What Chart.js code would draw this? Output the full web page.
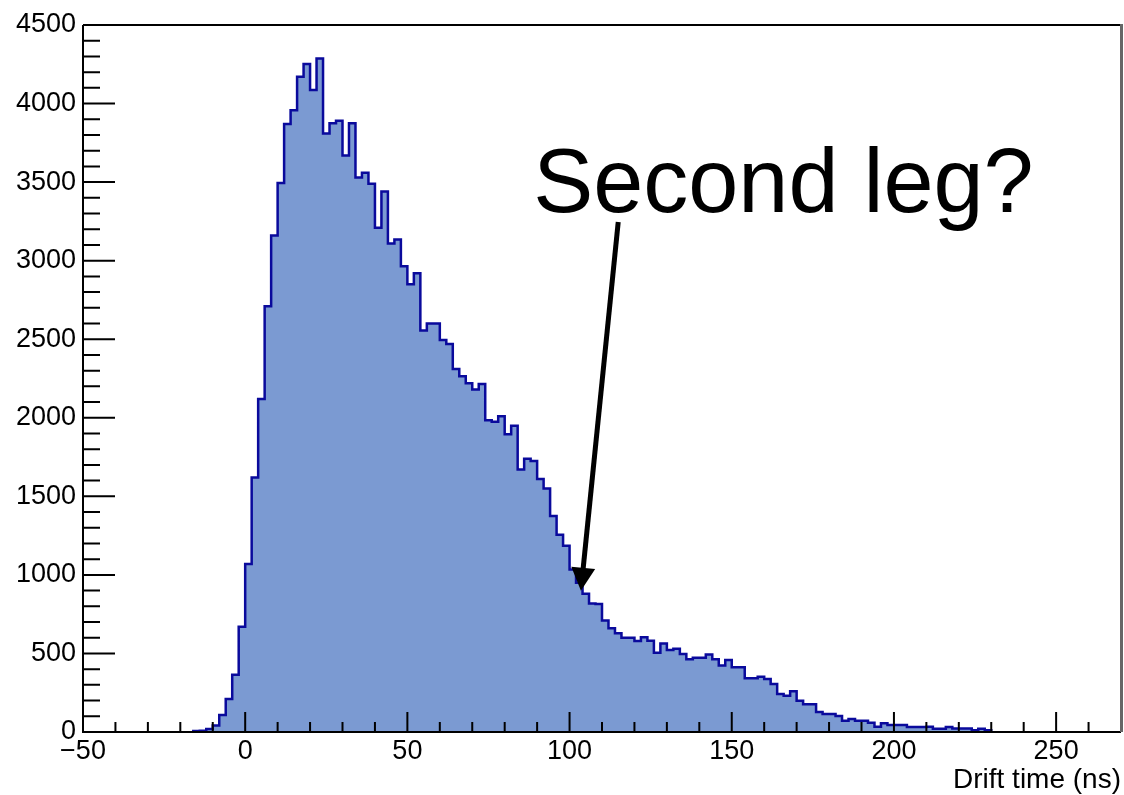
<!DOCTYPE html>
<html>
<head>
<meta charset="utf-8">
<script src="https://cdn.jsdelivr.net/npm/chart.js@4.4.1/dist/chart.umd.min.js"></script>
<style>
  html, body { margin: 0; padding: 0; background: #fff; }
  #wrap { width: 1124px; height: 795px; }
</style>
</head>
<body>
<div id="wrap"><canvas id="histo" width="1124" height="795"></canvas></div>
<script>
// drift time histogram, 2 ns bins starting at -16 ns
const binLow = -16;
const binWidth = 2;
// entries per bin
const counts = [
  7, 8, 19, 42, 108, 210, 365, 670, 1070, 1620,
  2120, 2710, 3160, 3495, 3870, 3958, 4170, 4252, 4087, 4286,
  3810, 3875, 3890, 3670, 3875, 3530, 3560, 3490, 3210, 3440,
  3110, 3135, 2965, 2850, 2920, 2555, 2600, 2600, 2495, 2470,
  2310, 2265, 2220, 2180, 2215, 1985, 1975, 2010, 1895, 1950,
  1670, 1740, 1725, 1610, 1550, 1375, 1255, 1185, 1035, 950,
  880, 818, 815, 710, 660, 628, 600, 600, 580, 603,
  581, 505, 564, 522, 530, 497, 463, 473, 473, 494,
  463, 424, 458, 412, 412, 342, 342, 352, 337, 306,
  242, 231, 259, 199, 176, 176, 127, 115, 115, 102,
  72, 83, 72, 72, 59, 34, 55, 45, 45, 45,
  32, 32, 32, 34, 21, 21, 32, 23, 23, 23,
  11, 21, 11
];
const xTicks = [-50, 0, 50, 100, 150, 200, 250];
const yTicks = [0, 500, 1000, 1500, 2000, 2500, 3000, 3500, 4000, 4500];
const xTitle = 'Drift time (ns)';
const noteText = 'Second leg?';
// annotation anchors in data units
const notePos = [88.8, 3310];
const arrowFrom = [115.0, 3246];
const arrowTo = [103.5, 899];

const FONT = "'Liberation Sans', Arial, Helvetica, sans-serif";

// outline of the histogram as a step line
const points = [{ x: binLow, y: 0 }];
counts.forEach((c, i) => points.push({ x: binLow + i * binWidth, y: c }));
points.push({ x: binLow + counts.length * binWidth, y: 0 });

// ROOT style frame with inward ticks
const rootFrame = {
  id: 'rootFrame',
  afterDatasetsDraw(chart) {
    const { ctx, chartArea: a, scales: { x, y } } = chart;
    ctx.save();
    ctx.strokeStyle = '#000';
    ctx.lineWidth = 2;
    ctx.beginPath();
    for (let v = -40; v < 270; v += 10) {
      const px = x.getPixelForValue(v);
      const len = v % 50 === 0 ? 20 : 10;
      ctx.moveTo(px, a.bottom);
      ctx.lineTo(px, a.bottom - len);
    }
    for (let v = 100; v < 4500; v += 100) {
      const py = y.getPixelForValue(v);
      const len = v % 500 === 0 ? 32 : 17;
      ctx.moveTo(a.left, py);
      ctx.lineTo(a.left + len, py);
    }
    ctx.stroke();
    // frame
    ctx.beginPath();
    ctx.moveTo(a.left, a.top);
    ctx.lineTo(a.right, a.top);
    ctx.moveTo(a.left, a.top);
    ctx.lineTo(a.left, a.bottom);
    ctx.moveTo(a.left - 1, a.bottom);
    ctx.lineTo(a.right, a.bottom);
    ctx.stroke();
    ctx.strokeStyle = '#666';
    ctx.lineWidth = 3;
    ctx.beginPath();
    ctx.moveTo(a.right + 0.5, a.top - 1);
    ctx.lineTo(a.right + 0.5, a.bottom);
    ctx.stroke();
    ctx.restore();
  },
  afterDraw(chart) {
    const { ctx, scales: { x, y } } = chart;
    ctx.save();
    // label
    ctx.fillStyle = '#000';
    ctx.font = '90px ' + FONT;
    ctx.textAlign = 'left';
    ctx.textBaseline = 'alphabetic';
    ctx.fillText(noteText, x.getPixelForValue(notePos[0]), y.getPixelForValue(notePos[1]));
    // arrow
    const x0 = x.getPixelForValue(arrowFrom[0]), y0 = y.getPixelForValue(arrowFrom[1]);
    const x1 = x.getPixelForValue(arrowTo[0]), y1 = y.getPixelForValue(arrowTo[1]);
    const d = Math.hypot(x1 - x0, y1 - y0);
    const ux = (x1 - x0) / d, uy = (y1 - y0) / d;
    const headLen = 23, headHalf = 12;
    const bx = x1 - ux * headLen, by = y1 - uy * headLen;
    ctx.strokeStyle = '#000';
    ctx.lineWidth = 5;
    ctx.beginPath();
    ctx.moveTo(x0, y0);
    ctx.lineTo(bx + ux * 2, by + uy * 2);
    ctx.stroke();
    ctx.beginPath();
    ctx.moveTo(x1, y1);
    ctx.lineTo(bx - uy * headHalf, by + ux * headHalf);
    ctx.lineTo(bx + uy * headHalf, by - ux * headHalf);
    ctx.closePath();
    ctx.fill();
    ctx.restore();
  }
};

new Chart(document.getElementById('histo'), {
  type: 'line',
  data: {
    datasets: [{
      data: points,
      stepped: 'before',
      fill: 'origin',
      backgroundColor: '#7b9ad2',
      borderColor: '#0a0a9c',
      borderWidth: 2.5,
      pointRadius: 0,
      tension: 0
    }]
  },
  options: {
    responsive: false,
    animation: false,
    devicePixelRatio: 1,
    layout: { padding: { top: 25, right: 3, left: 0, bottom: 0 } },
    plugins: {
      legend: { display: false },
      tooltip: { enabled: false }
    },
    scales: {
      x: {
        type: 'linear',
        min: -50,
        max: 270,
        afterBuildTicks: (s) => { s.ticks = xTicks.map(v => ({ value: v })); },
        afterFit: (s) => { s.height = 63; },
        grid: { display: false, drawTicks: false },
        border: { display: false },
        ticks: {
          padding: 3,
          color: '#000',
          font: { family: FONT, size: 27 },
          maxRotation: 0,
          autoSkip: false,
          callback: (v) => String(v).replace('-', '\u2212')
        },
        title: {
          display: true,
          text: xTitle,
          align: 'end',
          color: '#000',
          font: { family: FONT, size: 28 },
          padding: { top: 0, bottom: -2 }
        }
      },
      y: {
        min: 0,
        max: 4500,
        afterBuildTicks: (s) => { s.ticks = yTicks.map(v => ({ value: v })); },
        afterFit: (s) => { s.width = 83; },
        grid: { display: false, drawTicks: false },
        border: { display: false },
        ticks: {
          padding: 7,
          color: '#000',
          font: { family: FONT, size: 27 },
          autoSkip: false,
          callback: (v) => String(v)
        }
      }
    }
  },
  plugins: [rootFrame]
});
</script>
</body>
</html>
